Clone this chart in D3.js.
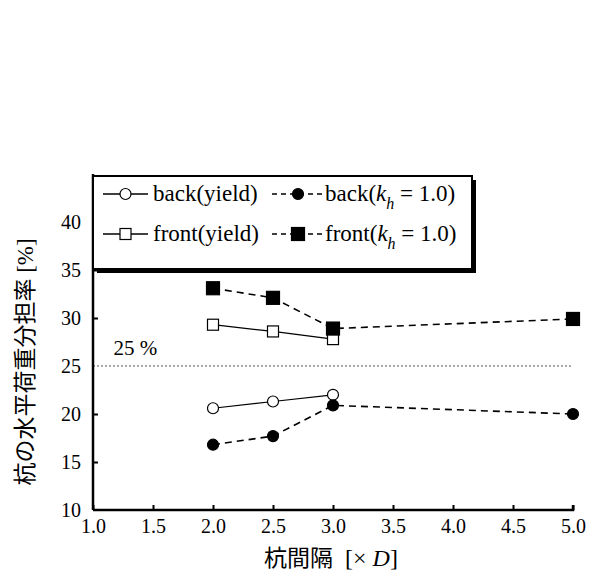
<!DOCTYPE html>
<html>
<head>
<meta charset="utf-8">
<script src="https://cdn.jsdelivr.net/npm/d3@7"></script>
<style>
  body { margin: 0; background: #fff; }
  svg text { font-family: "Liberation Serif", "Times New Roman", "Noto Sans CJK JP", serif; fill: #000; }
</style>
</head>
<body>
<div id="chart"></div>
<script>
// pile spacing (x D)
const spacing = [2.0, 2.5, 3.0, 5.0];

// share of horizontal load [%]
const backYield = [20.6, 21.3, 22.0];
const frontYield = [29.3, 28.6, 27.8];
const backKh = [16.8, 17.7, 20.9, 20.0];
const frontKh = [33.1, 32.1, 28.9, 29.9];

const xTicks = [1.0, 1.5, 2.0, 2.5, 3.0, 3.5, 4.0, 4.5, 5.0];
const yTicks = [10, 15, 20, 25, 30, 35, 40];
const refLine = 25;

const series = [
  { name: "back(yield)", values: backYield, shape: "circle", filled: false, dashed: false },
  { name: "front(yield)", values: frontYield, shape: "square", filled: false, dashed: false },
  { name: "back", values: backKh, shape: "circle", filled: true, dashed: true },
  { name: "front", values: frontKh, shape: "square", filled: true, dashed: true }
];

const width = 590, height = 572;
const margin = { top: 174, right: 17, bottom: 62, left: 93 };
const innerW = width - margin.left - margin.right;
const innerH = height - margin.top - margin.bottom;

const svg = d3.select("#chart").append("svg")
  .attr("width", width)
  .attr("height", height);

const g = svg.append("g")
  .attr("transform", "translate(" + margin.left + "," + margin.top + ")");

const x = d3.scaleLinear().domain([1, 5]).range([0, innerW]);
const y = d3.scaleLinear().domain([10, 45]).range([innerH, 0]);

// reference line at 25 %
g.append("line")
  .attr("x1", x(1)).attr("x2", x(5))
  .attr("y1", y(refLine)).attr("y2", y(refLine))
  .attr("stroke", "#555").attr("stroke-width", 1)
  .attr("stroke-dasharray", "2,2");

g.append("text")
  .attr("x", x(1.17)).attr("y", y(refLine) - 11)
  .style("font-size", "21px")
  .text("25 %");

// axes
const xAxis = d3.axisBottom(x).tickValues(xTicks).tickSize(-5).tickPadding(9)
  .tickFormat(d3.format(".1f"));
const yAxis = d3.axisLeft(y).tickValues(yTicks).tickSize(-5).tickPadding(12);

const gx = g.append("g").attr("transform", "translate(0," + innerH + ")").call(xAxis);
const gy = g.append("g").call(yAxis);

[gx, gy].forEach(a => {
  a.select(".domain").attr("stroke", "#000").attr("stroke-width", 2.5);
  a.selectAll(".tick line").attr("stroke", "#000").attr("stroke-width", 2);
  a.selectAll(".tick text").style("font-size", "20px");
});
gy.select(".domain").attr("d", "M0," + innerH + "V0");
gx.select(".domain").attr("d", "M0,0H" + innerW + "V-5");
gy.selectAll(".tick").filter(d => d === 10 || d === 25).select("line").remove();

// series lines and markers
const line = d3.line().x(d => x(d[0])).y(d => y(d[1]));

function drawMarker(sel, s, cx, cy) {
  if (s.shape === "circle") {
    sel.append("circle")
      .attr("cx", cx).attr("cy", cy).attr("r", 5.5)
      .attr("fill", s.filled ? "#000" : "#fff")
      .attr("stroke", "#000").attr("stroke-width", 1.2);
  } else {
    const sz = s.filled ? 13 : 11;
    sel.append("rect")
      .attr("x", cx - sz / 2).attr("y", cy - sz / 2)
      .attr("width", sz).attr("height", sz)
      .attr("fill", s.filled ? "#000" : "#fff")
      .attr("stroke", "#000").attr("stroke-width", 1.2);
  }
}

series.forEach(s => {
  const pts = s.values.map((v, i) => [spacing[i], v]);
  g.append("path")
    .datum(pts)
    .attr("d", line)
    .attr("fill", "none")
    .attr("stroke", "#000")
    .attr("stroke-width", s.dashed ? 1.6 : 1.2)
    .attr("stroke-dasharray", s.dashed ? "7,5" : null);
  pts.forEach(p => drawMarker(g, s, x(p[0]), y(p[1])));
});

// legend box with shadow
const lg = svg.append("g").attr("transform", "translate(93,176)");
const boxW = 379, boxH = 93;
lg.append("rect").attr("x", 4).attr("y", 4).attr("width", boxW).attr("height", boxH).attr("fill", "#000");
lg.append("rect").attr("x", 0).attr("y", 0).attr("width", boxW).attr("height", boxH)
  .attr("fill", "#fff").attr("stroke", "#000").attr("stroke-width", 2);

const cols = [{ x0: 10, x1: 55, tx: 60 }, { x0: 179, x1: 231, tx: 232 }];
const rows = [18, 58];

series.forEach((s, i) => {
  const col = cols[s.dashed ? 1 : 0];
  const ry = rows[i % 2];
  lg.append("line")
    .attr("x1", col.x0).attr("x2", col.x1).attr("y1", ry).attr("y2", ry)
    .attr("stroke", "#000").attr("stroke-width", s.dashed ? 1.6 : 1.5)
    .attr("stroke-dasharray", s.dashed ? "5,4" : null);
  drawMarker(lg, s, (col.x0 + col.x1) / 2, ry);
  const t = lg.append("text")
    .attr("x", col.tx).attr("y", ry + 7)
    .style("font-size", "23px");
  if (!s.dashed) {
    t.text(s.name);
  } else {
    t.append("tspan").text(s.name + "(");
    t.append("tspan").style("font-style", "italic").text("k");
    t.append("tspan").attr("dy", 8).style("font-style", "italic").style("font-size", "16px").text("h");
    t.append("tspan").attr("dy", -8).text(" = 1.0)");
  }
});

// axis titles
const xt = svg.append("text")
  .attr("x", 331).attr("y", 566)
  .attr("text-anchor", "middle")
  .style("font-size", "24px");
xt.append("tspan").style("font-family", "'Noto Sans CJK JP', sans-serif").style("font-size", "23px").text("杭間隔");
xt.append("tspan").text("\u00a0\u00a0[×\u00a0");
xt.append("tspan").style("font-style", "italic").text("D");
xt.append("tspan").text("]");

svg.append("text")
  .attr("transform", "translate(33,362) rotate(-90)")
  .attr("text-anchor", "middle")
  .style("font-size", "23px")
  .text("杭の水平荷重分担率 [%]");
</script>
</body>
</html>
